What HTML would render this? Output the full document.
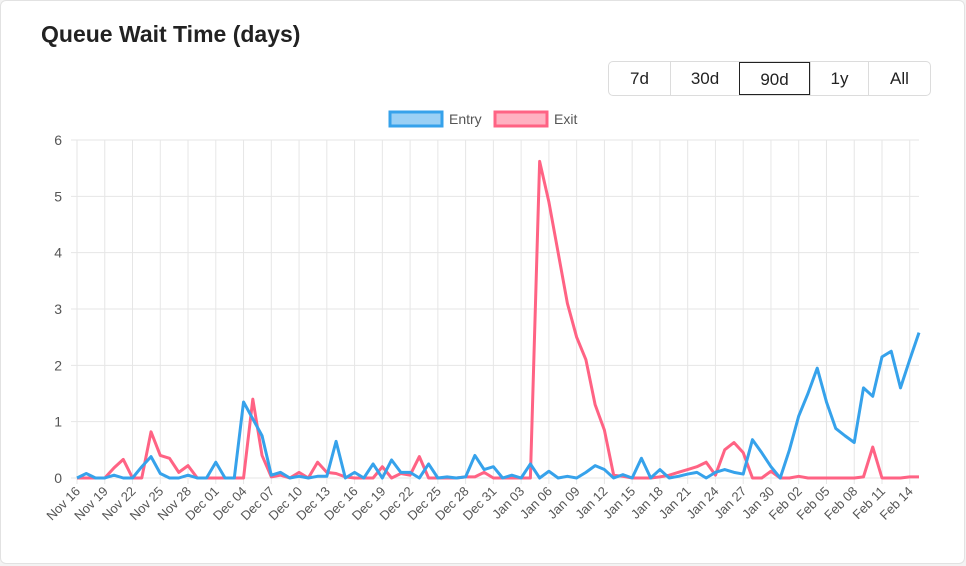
<!DOCTYPE html>
<html><head><meta charset="utf-8"><style>
body{margin:0;background:#f3f3f3;font-family:"Liberation Sans",sans-serif;}
#card{position:absolute;left:0;top:0;width:963px;height:562px;background:#fff;border:1px solid #e2e2e2;border-radius:6px;}
h1{position:absolute;left:40px;top:20px;margin:0;font-size:23px;font-weight:bold;color:#222;}
#btns{position:absolute;left:607px;top:60px;height:33px;display:flex;border:1px solid #dcdcdc;border-radius:5px;}
.b{height:33px;line-height:33px;text-align:center;font-size:17px;color:#222;border-left:1px solid #dcdcdc;box-sizing:border-box;}
.b:first-child{border-left:none}
.b.on{border:1px solid #222;}
</style></head><body>
<div id="card">
<h1>Queue Wait Time (days)</h1>
<div id="btns">
<div class="b" style="width:61px">7d</div>
<div class="b" style="width:69px">30d</div>
<div class="b on" style="width:71px">90d</div>
<div class="b" style="width:58px">1y</div>
<div class="b" style="width:62px">All</div>
</div>
<svg id="chart" width="966" height="566" style="position:absolute;left:-1px;top:-1px"></svg>
</div>
<script>
const entryValues=[0,0.08,0,0,0.05,0,0,0.2,0.38,0.08,0,0,0.05,0,0,0.28,0,0,1.35,1.05,0.75,0.05,0.1,0,0.03,0,0.03,0.03,0.65,0,0.1,0,0.25,0,0.32,0.1,0.1,0,0.25,0,0.02,0,0.02,0.4,0.15,0.2,0,0.05,0,0.25,0,0.12,0,0.03,0,0.1,0.22,0.15,0,0.06,0,0.35,0,0.15,0,0.03,0.07,0.1,0,0.1,0.15,0.1,0.07,0.68,0.45,0.2,0,0.5,1.1,1.5,1.95,1.35,0.88,0.75,0.63,1.6,1.45,2.15,2.25,1.6,2.1,2.58];
const exitValues=[0,0,0,0,0.18,0.33,0,0,0.82,0.4,0.35,0.1,0.22,0,0,0,0,0,0,1.4,0.4,0.02,0.05,0,0.1,0,0.28,0.1,0.08,0.02,0,0,0,0.2,0,0.08,0.05,0.38,0,0,0,0,0.02,0.02,0.1,0,0,0,0,0,5.62,4.9,4.0,3.1,2.5,2.1,1.3,0.85,0.05,0.03,0,0,0,0.02,0.05,0.1,0.15,0.2,0.28,0.05,0.5,0.63,0.45,0,0,0.12,0,0,0.03,0,0,0,0,0,0,0.02,0.55,0,0,0,0.02,0.02];
const yTicks=[0,1,2,3,4,5,6];
const startDate=[2023,10,16];
const seriesNames=["Entry","Exit"];
const NS="http://www.w3.org/2000/svg";
const svg=document.getElementById('chart');
const X0=77,X1=919,Y0=478,Y1=140,N=entryValues.length;
const xs=i=>X0+i*(X1-X0)/(N-1);
const ys=v=>Y0-(v/6)*(Y0-Y1);
function mk(t,a){const e=document.createElementNS(NS,t);for(const k in a)e.setAttribute(k,a[k]);svg.appendChild(e);return e;}
const mon=["Jan","Feb","Mar","Apr","May","Jun","Jul","Aug","Sep","Oct","Nov","Dec"];
yTicks.forEach(t=>{
 const l=mk('line',{x1:X0-6,x2:X1,y1:ys(t),y2:ys(t),stroke:'#e6e6e6'});
 
 
 const tx=mk('text',{x:62,y:ys(t)+5,'text-anchor':'end','font-size':14,fill:'#555'});
 tx.textContent=t;
 
 
});
for(let i=0;i<N;i+=3){
 const x=xs(i);
 const l=mk('line',{x1:x,x2:x,y1:Y1,y2:Y0+6,stroke:'#e6e6e6'});
 
 
 const d=new Date(startDate[0],startDate[1],startDate[2]+i);
 const lab=mon[d.getMonth()]+' '+String(d.getDate()).padStart(2,'0');
 const tx=mk('text',{x:x+4,y:Y0+14,'text-anchor':'end','font-size':13,fill:'#555',transform:`rotate(-45 ${x+4} ${Y0+14})`});
 tx.textContent=lab;
 
 
}
function line(vals,col,name){
 const p=mk('polyline',{points:vals.map((v,i)=>xs(i)+','+ys(v)).join(' '),fill:'none',stroke:col,'stroke-width':3,'stroke-linejoin':'round'});
 
 
}
line(exitValues,'#ff6384','exit-line');
line(entryValues,'#36a2eb','entry-line');
const lg=[[390,'#36a2eb','rgba(54,162,235,0.5)',seriesNames[0],'legend-entry'],[495,'#ff6384','rgba(255,99,132,0.5)',seriesNames[1],'legend-exit']];
lg.forEach(([x,c,f,t,n])=>{
 const r=mk('rect',{x:x,y:112,width:52,height:14,fill:f,stroke:c,'stroke-width':3});
 
 
 const tx=mk('text',{x:x+59,y:124,'font-size':14,fill:'#555'});
 tx.textContent=t;
 
 
});
</script>
</body></html>
